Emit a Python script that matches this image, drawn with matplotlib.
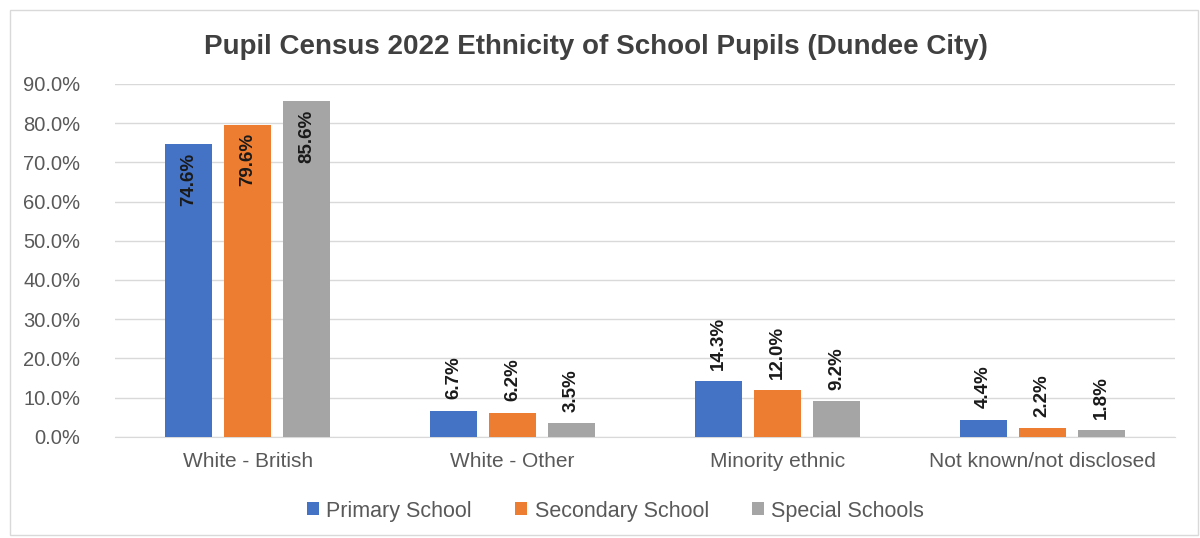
import matplotlib.pyplot as plt
import numpy as np
from matplotlib.patches import Rectangle

plt.rcParams['font.family'] = ['Liberation Sans', 'DejaVu Sans']

# data
categories = ['White - British', 'White - Other', 'Minority ethnic', 'Not known/not disclosed']
primary = [74.6, 6.7, 14.3, 4.4]
secondary = [79.6, 6.2, 12.0, 2.2]
special = [85.6, 3.5, 9.2, 1.8]
series_names = ['Primary School', 'Secondary School', 'Special Schools']
colors = ['#4472C4', '#ED7D31', '#A5A5A5']
y_ticks = [0, 10, 20, 30, 40, 50, 60, 70, 80, 90]

fig = plt.figure(figsize=(12, 5.38), dpi=100)
ax = fig.add_axes([0.096, 0.188, 0.883, 0.656])

# outer chart border
fig.patches.append(Rectangle((0.008, 0.005), 0.99, 0.976, transform=fig.transFigure,
                             fill=False, edgecolor='#D9D9D9', linewidth=1))

x = np.arange(len(categories))
width = 0.178
offsets = [-0.223, 0, 0.223]

for vals, name, col, off in zip([primary, secondary, special], series_names, colors, offsets):
    bars = ax.bar(x + off, vals, width, color=col, label=name, zorder=3)
    for i, (b, v) in enumerate(zip(bars, vals)):
        xc = b.get_x() + b.get_width() / 2
        if i == 0:
            # label inside the top of the tall bars
            ax.annotate(f'{v:.1f}%', (xc, v), xytext=(0, -6), textcoords='offset points',
                        rotation=90, ha='center', va='top', fontsize=13.5,
                        fontweight='bold', color='#1a1a1a', zorder=4)
        else:
            ax.annotate(f'{v:.1f}%', (xc, v), xytext=(0, 8), textcoords='offset points',
                        rotation=90, ha='center', va='bottom', fontsize=13.5,
                        fontweight='bold', color='#1a1a1a', zorder=4)

ax.set_xlim(-0.5, len(categories) - 0.5)
ax.set_ylim(0, 90)
ax.set_yticks(y_ticks)
ax.set_yticklabels([f'{t:.1f}%' for t in y_ticks])
ax.set_xticks(x)
ax.set_xticklabels(categories)
ax.tick_params(axis='y', length=0, labelsize=14.5, colors='#595959', pad=25)
ax.tick_params(axis='x', length=0, labelsize=15, colors='#595959', pad=11)
ax.grid(axis='y', color='#D9D9D9', linewidth=1, zorder=0)
for s in ['top', 'right', 'left']:
    ax.spines[s].set_visible(False)
ax.spines['bottom'].set_color('#D9D9D9')

fig.suptitle('Pupil Census 2022 Ethnicity of School Pupils (Dundee City)',
             x=0.497, y=0.937, fontsize=20, fontweight='bold', color='#404040')

leg = fig.legend(loc='center', bbox_to_anchor=(0.513, 0.05), ncol=3, frameon=False,
                 fontsize=15.5, handlelength=0.55, handleheight=0.55, handletextpad=0.35,
                 columnspacing=2.0)
for t in leg.get_texts():
    t.set_color('#595959')

fig.savefig('out.png', dpi=100)
